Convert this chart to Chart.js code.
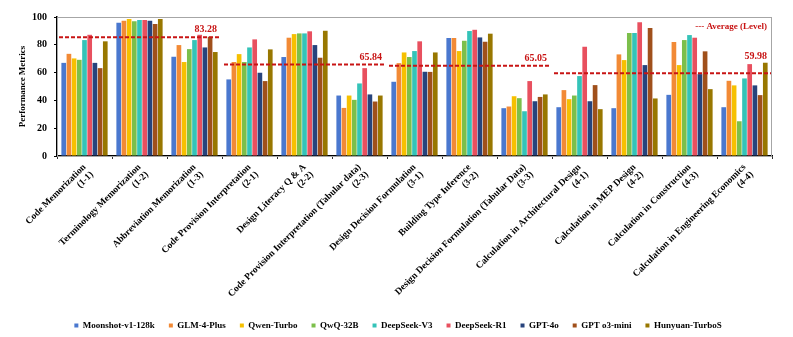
<!DOCTYPE html>
<html>
<head>
<meta charset="utf-8">
<script src="https://cdn.jsdelivr.net/npm/chart.js@4.4.1/dist/chart.umd.min.js"></script>
<style>
    html, body { margin: 0; padding: 0; background: #fff; }
    #wrap { width: 793px; height: 337px; }
</style>
</head>
<body>
<div id="wrap"><canvas id="perfChart"></canvas></div>
<script>
// Task categories (two-line labels)
var categories = [
    ['Code Memorization', '(1-1)'],
    ['Terminology Memorization', '(1-2)'],
    ['Abbreviation Memorization', '(1-3)'],
    ['Code Provision Interpretation', '(2-1)'],
    ['Design Literacy Q & A', '(2-2)'],
    ['Code Provision Interpretation (Tabular data)', '(2-3)'],
    ['Design Decision Formulation', '(3-1)'],
    ['Building Type Inference', '(3-2)'],
    ['Design Decision Formulation (Tabular Data)', '(3-3)'],
    ['Calculation in Architectural Design', '(4-1)'],
    ['Calculation in MEP Design', '(4-2)'],
    ['Calculation in Construction', '(4-3)'],
    ['Calculation in Engineering Economics', '(4-4)']
];

var modelNames = ['Moonshot-v1-128k', 'GLM-4-Plus', 'Qwen-Turbo', 'QwQ-32B', 'DeepSeek-V3',
                  'DeepSeek-R1', 'GPT-4o', 'GPT o3-mini', 'Hunyuan-TurboS'];

// Scores per model, one value per category
var moonshot = [67.0, 95.9, 71.4, 55.1, 71.2, 43.5, 53.4, 84.9, 34.4, 35.1, 34.4, 44.0, 35.1];
var glm      = [73.5, 97.3, 79.8, 67.6, 85.1, 34.6, 66.8, 84.9, 35.6, 47.4, 73.1, 82.0, 54.1];
var qwen     = [70.2, 98.5, 67.6, 73.3, 87.7, 43.5, 74.5, 75.5, 43.0, 40.9, 69.0, 65.4, 50.8];
var qwq      = [69.2, 96.9, 76.9, 67.6, 88.2, 40.4, 71.2, 82.9, 41.6, 43.5, 88.5, 83.4, 25.0];
var dsV3     = [83.4, 97.8, 83.4, 78.1, 88.2, 52.2, 75.5, 89.9, 32.2, 57.5, 88.5, 87.0, 55.8];
var dsR1     = [87.2, 97.8, 87.2, 83.9, 89.7, 63.2, 82.5, 90.8, 53.9, 78.6, 96.2, 85.1, 66.1];
var gpt4o    = [67.0, 97.3, 78.1, 59.9, 79.8, 44.3, 60.6, 85.3, 39.4, 39.4, 65.4, 58.9, 50.8];
var o3mini   = [63.2, 95.0, 85.8, 53.9, 70.7, 39.2, 60.5, 82.2, 42.5, 51.0, 92.1, 75.3, 43.8];
var hunyuan  = [82.5, 98.5, 74.8, 76.7, 90.1, 43.5, 74.5, 88.0, 44.3, 33.7, 41.4, 48.1, 67.1];

var seriesValues = [moonshot, glm, qwen, qwq, dsV3, dsR1, gpt4o, o3mini, hunyuan];
var seriesColors = ['#4a78cf', '#f28a36', '#f6c000', '#7cbf4b', '#34c3b8',
                    '#e8505f', '#27437c', '#a0501b', '#987700'];

// Level averages: first/last category index, printed value, drawn height
var levelStart = [0, 3, 6, 9];
var levelEnd = [2, 5, 8, 12];
var levelAverages = ['83.28', '65.84', '65.05', '59.98'];
var levelLineAt = [85.5, 65.9, 64.9, 59.6];

var yTicks = [0, 20, 40, 60, 80, 100];

var SERIF = "'Liberation Serif', 'Times New Roman', serif";

// Grey frame round the plot area
var framePlugin = {
    id: 'frame',
    beforeDatasetsDraw: function(chart) {
        var a = chart.chartArea, ctx = chart.ctx;
        ctx.save();
        ctx.strokeStyle = '#a6a6a6';
        ctx.lineWidth = 1;
        ctx.strokeRect(a.left + 0.5, a.top + 0.5, a.right - a.left - 1, a.bottom - a.top);
        ctx.restore();
    }
};

// Dashed average lines per level with their values
var averagePlugin = {
    id: 'levelAverage',
    afterDatasetsDraw: function(chart) {
        var ctx = chart.ctx, x = chart.scales.x, y = chart.scales.y;
        var half = (x.getPixelForValue(1) - x.getPixelForValue(0)) / 2;
        var lift = [8, 7, 7, 17];
        ctx.save();
        ctx.strokeStyle = '#c81414';
        ctx.fillStyle = '#c81414';
        ctx.lineWidth = 2;
        ctx.setLineDash([4, 2]);
        ctx.font = 'bold 10px ' + SERIF;
        ctx.textAlign = 'right';
        ctx.textBaseline = 'middle';
        for (var i = 0; i < levelStart.length; i++) {
            var x0 = x.getPixelForValue(levelStart[i]) - half + 2;
            var x1 = Math.min(x.getPixelForValue(levelEnd[i]) + half - 1, chart.chartArea.right - 1);
            var py = y.getPixelForValue(levelLineAt[i]);
            ctx.beginPath();
            ctx.moveTo(x0, py);
            ctx.lineTo(x1, py);
            ctx.stroke();
            ctx.fillText(levelAverages[i], x1 - 4, py - lift[i]);
        }
        ctx.font = 'bold 9px ' + SERIF;
        ctx.fillText('--- Average (Level)', chart.chartArea.right - 5, chart.chartArea.top + 10);
        ctx.restore();
    }
};

// Fixed legend height, and nudge it right so it sits centred like the original
var legendFitPlugin = {
    id: 'legendFit',
    beforeInit: function(chart) {
        var legend = chart.legend;
        var origFit = legend.fit;
        var origDraw = legend.draw;
        legend.fit = function() {
            origFit.call(this);
            this.height = 31;
        };
        legend.draw = function() {
            chart.ctx.save();
            chart.ctx.translate(12, 1);
            origDraw.call(this);
            chart.ctx.restore();
        };
    }
};

var datasets = seriesValues.map(function(vals, i) {
    return {
        label: modelNames[i],
        data: vals,
        backgroundColor: seriesColors[i],
        borderWidth: 0,
        categoryPercentage: 0.85,
        barPercentage: 0.9
    };
});

var ctx = document.getElementById('perfChart').getContext('2d');
var chart = new Chart(ctx, {
    type: 'bar',
    data: {
        labels: categories,
        datasets: datasets
    },
    options: {
        responsive: true,
        maintainAspectRatio: false,
        animation: false,
        layout: {
            padding: { left: 0, right: 21, top: 17, bottom: 0 }
        },
        scales: {
            x: {
                grid: { display: true, drawOnChartArea: false, tickLength: 3, color: '#333' },
                border: { color: '#000', width: 1.5 },
                ticks: {
                    autoSkip: false,
                    maxRotation: 45,
                    minRotation: 45,
                    color: '#000',
                    padding: 3,
                    font: { family: SERIF, size: 9.5, weight: 'bold', lineHeight: 1.1 }
                },
                afterFit: function(axis) { axis.height = 150; }
            },
            y: {
                min: 0,
                max: 100,
                afterBuildTicks: function(axis) {
                    axis.ticks = yTicks.map(function(v) { return { value: v }; });
                },
                grid: { display: true, drawOnChartArea: false, tickLength: 3, color: '#000' },
                border: { color: '#000', width: 1.5 },
                ticks: {
                    color: '#000',
                    padding: 7,
                    font: { family: SERIF, size: 10, weight: 'bold' }
                },
                title: {
                    display: true,
                    text: 'Performance Metrics',
                    color: '#000',
                    padding: { top: 17, bottom: 0 },
                    font: { family: SERIF, size: 9, weight: 'bold' }
                },
                afterFit: function(axis) { axis.width = 57; }
            }
        },
        plugins: {
            legend: {
                position: 'bottom',
                labels: {
                    boxWidth: 4,
                    boxHeight: 4,
                    padding: 14,
                    color: '#000',
                    font: { family: SERIF, size: 9, weight: 'bold' }
                }
            },
            tooltip: { enabled: false }
        }
    },
    plugins: [framePlugin, averagePlugin, legendFitPlugin]
});
</script>
</body>
</html>
